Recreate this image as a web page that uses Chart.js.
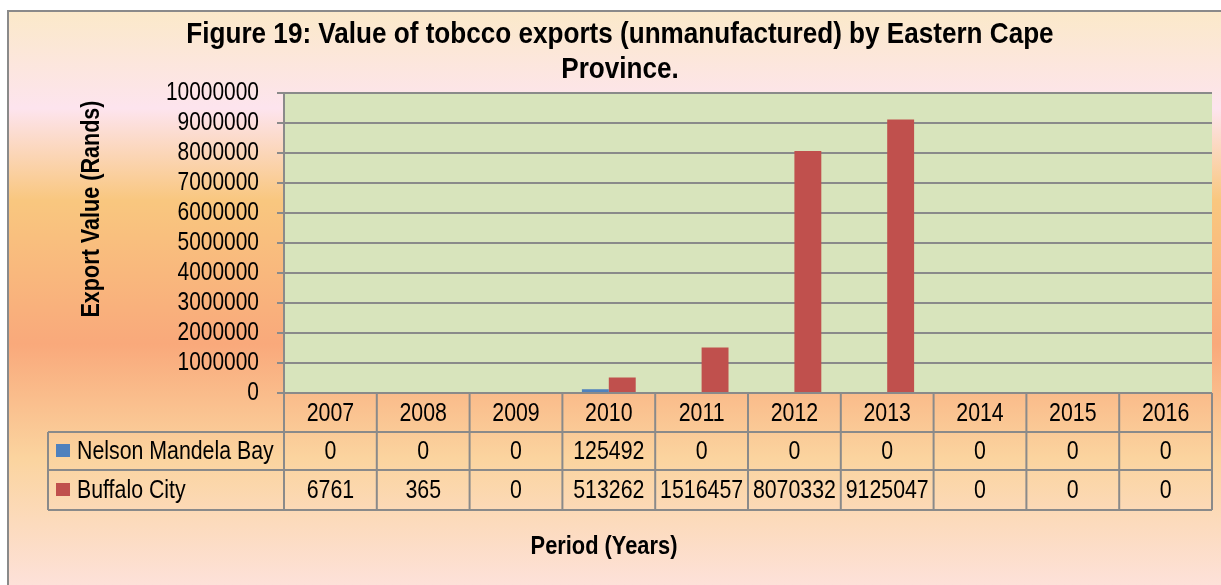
<!DOCTYPE html>
<html>
<head>
<meta charset="utf-8">
<script src="https://cdn.jsdelivr.net/npm/chart.js@4.4.1/dist/chart.umd.min.js"></script>
<style>
html,body{margin:0;padding:0;background:#fff;}
canvas{display:block;}
</style>
</head>
<body>
<canvas id="c" width="1221" height="585"></canvas>
<script>
const titleLines = ['Figure 19: Value of tobcco exports (unmanufactured) by Eastern Cape', 'Province.'];
const yAxisTitle = 'Export Value (Rands)';
const xAxisTitle = 'Period (Years)';
const years = ['2007','2008','2009','2010','2011','2012','2013','2014','2015','2016'];
const seriesNames = ['Nelson Mandela Bay', 'Buffalo City'];
const nelsonMandelaBay = [0, 0, 0, 125492, 0, 0, 0, 0, 0, 0];
const buffaloCity = [6761, 365, 0, 513262, 1516457, 8070332, 9125047, 0, 0, 0];
const seriesColors = ['#4f81bd', '#c0504d'];
const yMin = 0, yMax = 10000000, yStep = 1000000;

const FONT = "'Liberation Sans', Arial, sans-serif";
const GRID = '#8a8a8a';
const NARROW = 0.82;

// draw text horizontally condensed (emulates Arial Narrow)
function narrowText(ctx, text, x, y, align, font, sx) {
  ctx.save();
  ctx.font = font;
  ctx.textAlign = align;
  ctx.textBaseline = 'middle';
  ctx.translate(x, y);
  ctx.scale(sx, 1);
  ctx.fillText(text, 0, 0);
  ctx.restore();
}

const backgroundPlugin = {
  id: 'bg',
  beforeDraw(chart) {
    const ctx = chart.ctx;
    const W = chart.width, H = chart.height;
    ctx.save();
    ctx.fillStyle = '#ffffff';
    ctx.fillRect(0, 0, W, H);
    const g = ctx.createLinearGradient(0, 11, 0, H);
    g.addColorStop(0.00, '#fbe9c9');
    g.addColorStop(0.17, '#fde4ee');
    g.addColorStop(0.33, '#f9c77f');
    g.addColorStop(0.58, '#f9a97b');
    g.addColorStop(0.78, '#fbd49f');
    g.addColorStop(1.00, '#fde1d9');
    ctx.fillStyle = g;
    ctx.fillRect(8, 11, W - 8, H - 11);
    ctx.strokeStyle = GRID;
    ctx.lineWidth = 2;
    ctx.beginPath();
    ctx.moveTo(8, H);
    ctx.lineTo(8, 11);
    ctx.lineTo(W, 11);
    ctx.stroke();
    const a = chart.chartArea;
    ctx.fillStyle = '#d8e4bc';
    ctx.fillRect(a.left, a.top, a.right - a.left, a.bottom - a.top);
    ctx.restore();

    // condense the library-drawn title and tick labels (Arial Narrow look)
    if (!chart.$narrowed) {
      chart.$narrowed = true;
      const tb = chart.titleBlock;
      if (tb) {
        const origT = tb.draw.bind(tb);
        tb.draw = function (area) {
          const c = chart.ctx, cx = (tb.left + tb.right) / 2;
          c.save(); c.translate(cx, 0); c.scale(0.87, 1); c.translate(-cx, 0);
          origT(area);
          c.restore();
        };
      }
      const ys = chart.scales.y;
      const origL = ys.drawLabels.bind(ys);
      ys.drawLabels = function (area) {
        const c = chart.ctx, rx = ys.right - 25;
        c.save(); c.translate(rx, 0); c.scale(NARROW, 1); c.translate(-rx, 0);
        origL(area);
        c.restore();
      };
    }
  }
};

const tablePlugin = {
  id: 'dataTable',
  afterDraw(chart) {
    const ctx = chart.ctx;
    const a = chart.chartArea;
    const xs = chart.scales.x;
    const n = years.length;
    const colW = (a.right - a.left) / n;
    const rowTop = a.bottom;
    const r1 = rowTop + 39, r2 = r1 + 38, r3 = r2 + 40;
    const tableLeft = 48;
    ctx.save();
    ctx.strokeStyle = GRID;
    ctx.lineWidth = 2;
    ctx.beginPath();
    ctx.moveTo(a.left, rowTop); ctx.lineTo(a.right, rowTop);
    [r1, r2, r3].forEach(y => { ctx.moveTo(tableLeft, y); ctx.lineTo(a.right, y); });
    ctx.moveTo(tableLeft, r1); ctx.lineTo(tableLeft, r3);
    for (let i = 0; i <= n; i++) {
      const x = a.left + i * colW;
      ctx.moveTo(x, rowTop); ctx.lineTo(x, r3);
    }
    ctx.stroke();
    ctx.fillStyle = '#000';
    const f = '26px ' + FONT;
    const rowsData = [nelsonMandelaBay, buffaloCity];
    for (let i = 0; i < n; i++) {
      const cx = xs.getPixelForValue(i);
      narrowText(ctx, years[i], cx, (rowTop + r1) / 2 + 1, 'center', f, NARROW);
      narrowText(ctx, String(rowsData[0][i]), cx, (r1 + r2) / 2 + 1, 'center', f, NARROW);
      narrowText(ctx, String(rowsData[1][i]), cx, (r2 + r3) / 2 + 1, 'center', f, NARROW);
    }
    const mids = [(r1 + r2) / 2, (r2 + r3) / 2];
    for (let s = 0; s < 2; s++) {
      ctx.fillStyle = seriesColors[s];
      ctx.fillRect(56, mids[s] - 7, 14, 13);
      ctx.fillStyle = '#000';
      narrowText(ctx, seriesNames[s], 77, mids[s] + 1, 'left', f, NARROW);
    }
    const fb = 'bold 26px ' + FONT;
    narrowText(ctx, xAxisTitle, 604, 547, 'center', fb, 0.84);
    ctx.save();
    ctx.translate(92, 209);
    ctx.rotate(-Math.PI / 2);
    narrowText(ctx, yAxisTitle, 0, 0, 'center', fb, 0.83);
    ctx.restore();
    ctx.restore();
  }
};

new Chart(document.getElementById('c'), {
  type: 'bar',
  data: {
    labels: years,
    datasets: [
      { label: seriesNames[0], data: nelsonMandelaBay, backgroundColor: seriesColors[0] },
      { label: seriesNames[1], data: buffaloCity, backgroundColor: seriesColors[1] }
    ]
  },
  options: {
    responsive: false,
    animation: false,
    devicePixelRatio: 1,
    layout: { padding: { left: 28, right: 9, top: 0, bottom: 192 } },
    datasets: { bar: { categoryPercentage: 0.58, barPercentage: 1.0 } },
    plugins: {
      legend: { display: false },
      tooltip: { enabled: false },
      title: {
        display: true,
        text: titleLines,
        color: '#000',
        font: { family: FONT, size: 30, weight: 'bold', lineHeight: 1.17 },
        padding: { top: 17, bottom: 6 }
      }
    },
    scales: {
      x: {
        ticks: { display: false },
        grid: { display: false, drawTicks: false },
        border: { display: false },
        afterFit(scale) { scale.height = 0; }
      },
      y: {
        min: yMin, max: yMax,
        ticks: {
          stepSize: yStep,
          autoSkip: false,
          color: '#000',
          padding: 18,
          font: { family: FONT, size: 25.5 },
          callback: v => String(v)
        },
        grid: { color: GRID, lineWidth: 2, tickLength: 7, drawTicks: true },
        border: { display: true, color: GRID, width: 2 },
        afterFit(scale) { scale.width = 256; }
      }
    }
  },
  plugins: [backgroundPlugin, tablePlugin]
});
</script>
</body>
</html>
